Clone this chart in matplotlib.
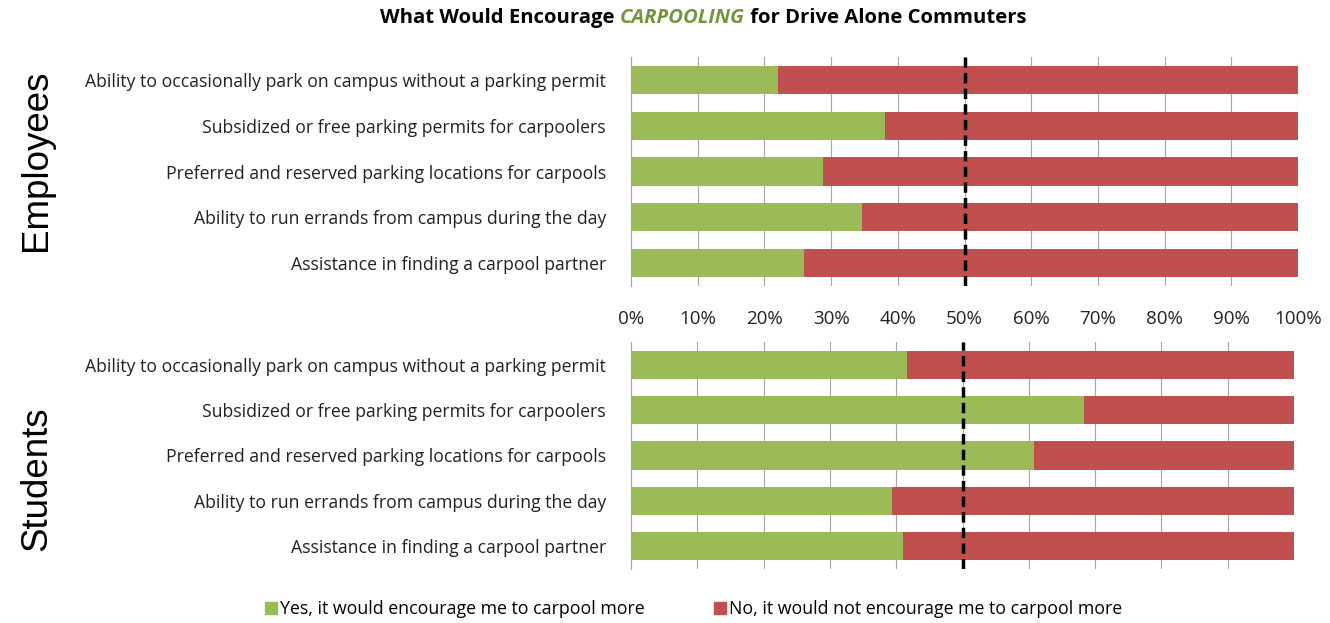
import numpy as np
import matplotlib.pyplot as plt
from matplotlib.lines import Line2D

# Survey data (percent answering yes / no)
questions = ['Ability to occasionally park on campus without a parking permit',
             'Subsidized or free parking permits for carpoolers',
             'Preferred and reserved parking locations for carpools',
             'Ability to run errands from campus during the day',
             'Assistance in finding a carpool partner']
employees_yes = [22.0, 38.1, 28.8, 34.6, 25.9]
students_yes = [41.7, 68.4, 60.8, 39.4, 41.1]
employees_no = [100 - v for v in employees_yes]
students_no = [100 - v for v in students_yes]
xticks = np.arange(0, 101, 10)

green = '#9BBB59'
red = '#C0504D'
grid_c = '#A6A6A6'

plt.rcParams['font.family'] = ['Open Sans', 'DejaVu Sans']

fig = plt.figure(figsize=(13.3, 6.23), dpi=100)
W, H = 1330, 623

def make_axes(x0, x1, y0, y1):
    return fig.add_axes([x0 / W, 1 - y1 / H, (x1 - x0) / W, (y1 - y0) / H])

ax1 = make_axes(631, 1298, 57, 286)
ax2 = make_axes(631, 1294, 342, 569)

def draw(ax, yes, no, show_ticks):
    y = np.arange(len(questions))
    ax.barh(y, yes, height=0.62, color=green, zorder=2)
    ax.barh(y, no, left=yes, height=0.62, color=red, zorder=2)
    ax.set_xlim(0, 100)
    ax.set_ylim(len(questions) - 0.5, -0.5)
    ax.set_yticks(y)
    ax.set_yticklabels(questions, fontsize=12.7, color='#222222')
    ax.set_xticks(xticks)
    ax.grid(axis='x', color=grid_c, linewidth=0.8, zorder=0)
    for s in ['top', 'right', 'bottom']:
        ax.spines[s].set_visible(False)
    ax.spines['left'].set_color(grid_c)
    ax.tick_params(axis='y', length=0, pad=18)
    ax.tick_params(axis='x', length=0, pad=17)
    if show_ticks:
        ax.set_xticklabels([f'{v}%' for v in xticks], fontsize=13.5, color='#222222')
    else:
        ax.set_xticklabels([])
    ax.axvline(50, color='black', linestyle=(0, (3, 1.5)), linewidth=2.5, zorder=3)

draw(ax1, employees_yes, employees_no, True)
draw(ax2, students_yes, students_no, False)

fig.text(37 / W, 1 - 160 / H, 'Employees', rotation=90, ha='center', va='center',
         fontsize=26.5, family='Liberation Sans')
fig.text(37 / W, 1 - 479 / H, 'Students', rotation=90, ha='center', va='center',
         fontsize=26.5, family='Liberation Sans')

# Title built from three pieces
renderer = fig.canvas.get_renderer()
parts = [('What Would Encourage ', 'black', 'normal'),
         ('CARPOOLING', '#77933C', 'italic'),
         (' for Drive Alone Commuters', 'black', 'normal')]
texts = []
total = 0
for s, c, st in parts:
    t = fig.text(0, 1 - 18 / H, s, color=c, style=st, fontweight='bold',
                 fontsize=14.6, va='center', ha='left')
    w = t.get_window_extent(renderer).width
    texts.append((t, w))
    total += w
x = 703 - total / 2
for t, w in texts:
    t.set_x(x / W)
    x += w

handles = [Line2D([], [], marker='s', linestyle='none', markersize=8, color=green),
           Line2D([], [], marker='s', linestyle='none', markersize=8, color=red)]
fig.legend(handles, ['Yes, it would encourage me to carpool more',
                     'No, it would not encourage me to carpool more'],
           loc='center', bbox_to_anchor=(693 / W, 1 - 609 / H), ncol=2, frameon=False,
           fontsize=12.8, handletextpad=0.1, columnspacing=3.8, handlelength=0.8)

fig.savefig('out.png', dpi=100)
